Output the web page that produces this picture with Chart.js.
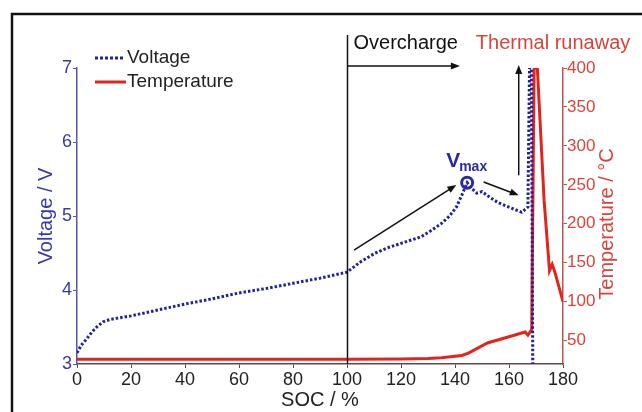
<!DOCTYPE html>
<html lang="en">
<head>
<meta charset="UTF-8" />
<title>Overcharge: voltage and temperature vs SOC</title>
<script src="https://cdn.jsdelivr.net/npm/chart.js"></script>
<style>
  html, body { margin: 0; padding: 0; background: #fff; }
</style>
</head>
<body>
<canvas id="socChart" width="642" height="412"></canvas>
<script>
// Voltage curve: SOC (%) and cell voltage (V)
const voltSoc = [0, 1.5, 3.6, 5.5, 7.3, 9.7, 12, 15, 20, 30, 40, 50, 60, 70, 80, 90, 100,
  105, 110, 115, 120, 127.5, 131, 135, 138, 140.5, 142.5, 144.5, 146, 148, 150, 153, 156,
  160, 164.7, 167, 167.6, 168.3, 168.8];
const voltVal = [3.15, 3.25, 3.34, 3.43, 3.5, 3.57, 3.6, 3.62, 3.65, 3.73, 3.81, 3.88, 3.96,
  4.02, 4.09, 4.16, 4.24, 4.38, 4.49, 4.57, 4.63, 4.72, 4.8, 4.9, 5.0, 5.12, 5.28, 5.45, 5.38,
  5.31, 5.33, 5.25, 5.18, 5.12, 5.05, 5.12, 7.0, 7.0, 3.0];

// Temperature curve: SOC (%) and temperature (°C)
const tempSoc = [0, 20, 40, 60, 80, 100, 120, 130, 135, 140, 142.5, 145, 152, 160, 166,
  167, 168.4, 169.3, 170.5, 173, 175, 176, 177, 180];
const tempVal = [26, 26, 26, 26, 26, 26, 26.5, 27, 28, 30, 31, 34, 47, 55, 61, 57, 64,
  400, 400, 230, 140, 148, 138, 100];

const socTicks = [0, 20, 40, 60, 80, 100, 120, 140, 160, 180];
const voltTicks = [3, 4, 5, 6, 7];
const tempTicks = [50, 100, 150, 200, 250, 300, 350, 400];

const FONT = '"Liberation Sans", Arial, sans-serif';
const BLUE = '#22229a';
const BLUE_AXIS = '#5656a6';
const RED = '#e0261c';
const RED_AXIS = '#b8564c';
const RED_TEXT = '#d8433a';

const toPoints = (xs, ys) => xs.map((x, i) => ({ x: x, y: ys[i] }));

// V_max = highest voltage before the runaway spike
let vmaxIdx = 0;
voltSoc.forEach((s, i) => {
  if (s < 160 && voltVal[i] > voltVal[vmaxIdx]) vmaxIdx = i;
});

function arrow(ctx, x1, y1, x2, y2) {
  const a = Math.atan2(y2 - y1, x2 - x1);
  const L = 9, W = 3.5;
  ctx.beginPath();
  ctx.moveTo(x1, y1);
  ctx.lineTo(x2 - Math.cos(a) * L * 0.8, y2 - Math.sin(a) * L * 0.8);
  ctx.stroke();
  ctx.beginPath();
  ctx.moveTo(x2, y2);
  ctx.lineTo(x2 - Math.cos(a) * L - Math.sin(a) * W, y2 - Math.sin(a) * L + Math.cos(a) * W);
  ctx.lineTo(x2 - Math.cos(a) * L + Math.sin(a) * W, y2 - Math.sin(a) * L - Math.cos(a) * W);
  ctx.closePath();
  ctx.fill();
}

const annotations = {
  id: 'annotations',
  beforeDraw(chart) {
    const ctx = chart.ctx;
    ctx.save();
    ctx.fillStyle = '#fff';
    ctx.fillRect(0, 0, chart.width, chart.height);
    // picture frame (top and left edges)
    ctx.strokeStyle = '#111';
    ctx.lineWidth = 2.5;
    ctx.beginPath();
    ctx.moveTo(chart.width, 14);
    ctx.lineTo(12, 14);
    ctx.lineTo(12, chart.height);
    ctx.stroke();
    ctx.restore();
  },
  afterDatasetsDraw(chart) {
    const ctx = chart.ctx;
    const x = chart.scales.x, yv = chart.scales.y, area = chart.chartArea;
    ctx.save();
    ctx.strokeStyle = '#111';
    ctx.fillStyle = '#111';
    ctx.lineWidth = 1.5;

    // overcharge boundary
    const x100 = Math.round(x.getPixelForValue(100)) + 0.5;
    ctx.beginPath();
    ctx.moveTo(x100, 35);
    ctx.lineTo(x100, area.bottom);
    ctx.stroke();
    arrow(ctx, x100, area.top - 2, x.getPixelForValue(141.8), area.top - 2);

    // arrows along the voltage curve
    arrow(ctx, x.getPixelForValue(102.6), yv.getPixelForValue(4.54),
      x.getPixelForValue(140.5), yv.getPixelForValue(5.42));
    arrow(ctx, x.getPixelForValue(150.6), yv.getPixelForValue(5.46),
      x.getPixelForValue(163.6), yv.getPixelForValue(5.28));
    arrow(ctx, x.getPixelForValue(163.6), yv.getPixelForValue(5.55),
      x.getPixelForValue(163.6), area.top - 3);

    ctx.font = '20px ' + FONT;
    ctx.textBaseline = 'alphabetic';
    ctx.textAlign = 'left';
    ctx.fillText('Overcharge', x100 + 6, 49);
    ctx.fillStyle = RED_TEXT;
    ctx.fillText('Thermal runaway', x.getPixelForValue(147.7), 49);

    // V_max marker
    const cx = x.getPixelForValue(voltSoc[vmaxIdx]);
    const cy = yv.getPixelForValue(voltVal[vmaxIdx]);
    ctx.strokeStyle = '#2a2aa8';
    ctx.lineWidth = 3;
    ctx.beginPath();
    ctx.arc(cx, cy, 5.5, 0, Math.PI * 2);
    ctx.stroke();
    ctx.fillStyle = '#2a2aa8';
    ctx.font = 'bold 21px ' + FONT;
    ctx.fillText('V', cx - 21, cy - 16);
    ctx.font = 'bold 14px ' + FONT;
    ctx.fillText('max', cx - 8, cy - 12);

    // legend
    ctx.lineWidth = 3;
    ctx.strokeStyle = BLUE;
    ctx.setLineDash([3, 2]);
    ctx.beginPath();
    ctx.moveTo(95, 58);
    ctx.lineTo(125, 58);
    ctx.stroke();
    ctx.setLineDash([]);
    ctx.strokeStyle = RED;
    ctx.beginPath();
    ctx.moveTo(95, 82);
    ctx.lineTo(126, 82);
    ctx.stroke();
    ctx.fillStyle = '#222';
    ctx.font = '19px ' + FONT;
    ctx.textBaseline = 'middle';
    ctx.fillText('Voltage', 127, 58);
    ctx.fillText('Temperature', 127, 82);

    // right axis title, reading bottom to top like the left one
    const r = chart.scales.y2;
    ctx.translate(r.right - 16, (area.top + area.bottom) / 2 + 8);
    ctx.rotate(-Math.PI / 2);
    ctx.textAlign = 'center';
    ctx.fillStyle = RED_TEXT;
    ctx.font = '20px ' + FONT;
    ctx.fillText('Temperature / °C', 0, 0);
    ctx.restore();
  }
};

const fixTicks = vals => scale => { scale.ticks = vals.map(v => ({ value: v })); };

new Chart(document.getElementById('socChart'), {
  type: 'scatter',
  data: {
    datasets: [
      {
        label: 'Voltage',
        data: toPoints(voltSoc, voltVal),
        yAxisID: 'y',
        showLine: true,
        borderColor: BLUE,
        borderWidth: 3,
        borderDash: [2.5, 2],
        pointRadius: 0,
        tension: 0
      },
      {
        label: 'Temperature',
        data: toPoints(tempSoc, tempVal),
        yAxisID: 'y2',
        showLine: true,
        borderColor: RED,
        borderWidth: 3,
        pointRadius: 0,
        tension: 0
      }
    ]
  },
  options: {
    responsive: false,
    animation: false,
    devicePixelRatio: 1,
    layout: { padding: { left: 30, right: 19, top: 68, bottom: 0 } },
    plugins: { legend: { display: false }, tooltip: { enabled: false } },
    scales: {
      x: {
        type: 'linear',
        min: 0,
        max: 180,
        afterBuildTicks: fixTicks(socTicks),
        afterFit: s => { s.height = 48; },
        border: { color: '#5a4a4a', width: 1.5 },
        grid: { drawOnChartArea: false, tickLength: 4, color: '#5a4a4a' },
        ticks: { color: '#222', font: { family: FONT, size: 18 }, padding: 1, maxRotation: 0 },
        title: { display: true, text: 'SOC / %', color: '#222', padding: 0,
          font: { family: FONT, size: 20 } }
      },
      y: {
        position: 'left',
        min: 3,
        max: 7,
        afterBuildTicks: fixTicks(voltTicks),
        afterFit: s => { s.width = 47; },
        border: { color: BLUE_AXIS, width: 1.5 },
        grid: { drawOnChartArea: false, tickLength: 4, color: BLUE_AXIS },
        ticks: { color: '#3838a8', font: { family: FONT, size: 18 }, padding: 1 },
        title: { display: true, text: 'Voltage / V', color: '#3838a8',
          padding: { top: 4, bottom: 0 }, font: { family: FONT, size: 20 } }
      },
      y2: {
        position: 'right',
        min: 20,
        max: 400,
        afterBuildTicks: fixTicks(tempTicks),
        afterFit: s => { s.width = 60; },
        border: { color: RED_AXIS, width: 1.5 },
        grid: { drawOnChartArea: false, tickLength: 4, color: RED_AXIS },
        ticks: { color: RED_TEXT, font: { family: FONT, size: 17 }, padding: 0 },
        title: { display: false }
      }
    }
  },
  plugins: [annotations]
});
</script>
</body>
</html>
